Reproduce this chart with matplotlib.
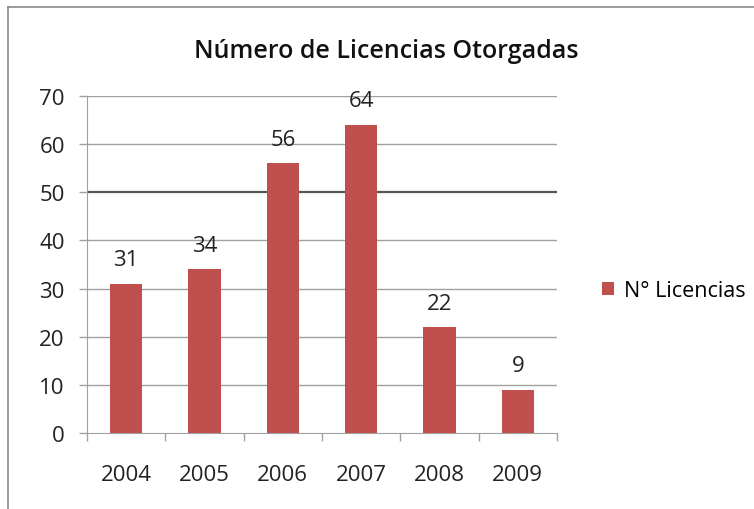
import matplotlib
matplotlib.use("Agg")
import matplotlib.pyplot as plt
from matplotlib.lines import Line2D
from matplotlib.patches import Patch

categories = ["2004", "2005", "2006", "2007", "2008", "2009"]
values = [31, 34, 56, 64, 22, 9]
yticks = [0, 10, 20, 30, 40, 50, 60, 70]
title = "Número de Licencias Otorgadas"
series_name = "N° Licencias"

plt.rcParams['font.family'] = ['Open Sans', 'DejaVu Sans']

W, H = 754, 510
fig = plt.figure(figsize=(W / 100, H / 100), dpi=100)
fig.patch.set_facecolor('white')

# outer chart border (left and top)
fig.add_artist(Line2D([8 / W, 8 / W], [0, 1 - 8 / H], transform=fig.transFigure, color='#8a8a8a', lw=1.2))
fig.add_artist(Line2D([8 / W, 1], [1 - 8 / H, 1 - 8 / H], transform=fig.transFigure, color='#8a8a8a', lw=1.2))

left, right, top, bottom = 87, 557, 97, 434
ax = fig.add_axes([left / W, 1 - bottom / H, (right - left) / W, (bottom - top) / H])

x = list(range(len(categories)))
ax.bar(x, values, width=0.41, color='#C0504D', zorder=3)
ax.set_xlim(-0.5, len(categories) - 0.5)
ax.set_ylim(0, 70)

for xi, v in zip(x, values):
    ax.text(xi, v + 5.0, str(v), ha='center', va='center', fontsize=16, color='#222222', zorder=4)

ax.set_yticks(yticks)
ax.set_yticklabels([str(t) for t in yticks], fontsize=16, color='#222222')
for t in yticks[1:]:
    ax.axhline(t, color='#555555' if t == 50 else '#a0a0a0', lw=1.6 if t == 50 else 1.0, zorder=1)

ax.set_xticks(x)
ax.set_xticklabels(categories, fontsize=16, color='#222222')
ax.tick_params(axis='x', length=0, pad=22)
ax.set_xticks([i - 0.5 for i in range(len(categories) + 1)], minor=True)
ax.tick_params(axis='x', which='minor', length=6, color='#a0a0a0', width=1)
ax.tick_params(axis='y', length=6, color='#a0a0a0', width=1, pad=10)

for s in ['top', 'right']:
    ax.spines[s].set_visible(False)
ax.spines['left'].set_color('#a0a0a0')
ax.spines['bottom'].set_color('#a0a0a0')

fig.text(386 / W, 1 - 51 / H, title, ha='center', va='center', fontsize=18,
         fontweight='semibold', color='#111111')

fig.legend(handles=[Patch(facecolor='#C0504D', label=series_name)], loc='center left',
           bbox_to_anchor=(583 / W, 1 - 292 / H), frameon=False, fontsize=15.5,
           handlelength=0.55, handleheight=0.55, handletextpad=0.45)

fig.savefig("out.png", dpi=100, facecolor='white')
